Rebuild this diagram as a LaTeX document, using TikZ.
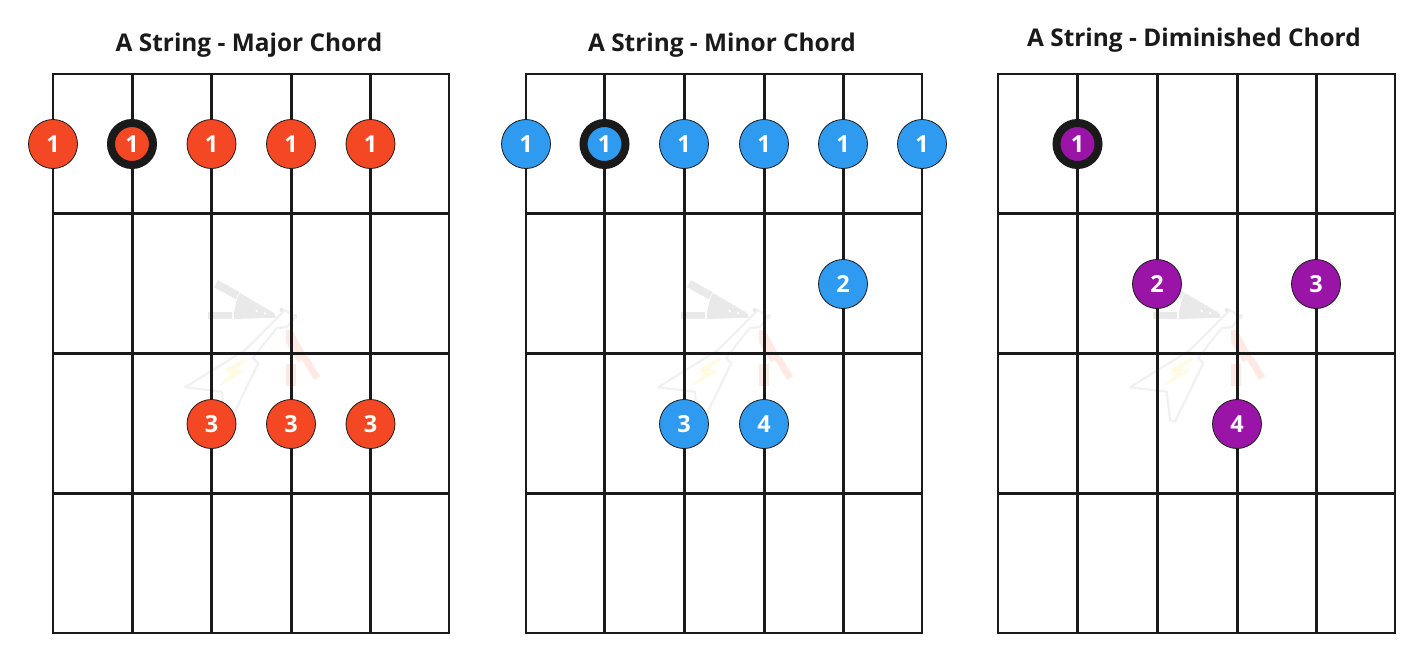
\documentclass[tikz,border=0pt]{standalone}
\usepackage{fontspec}
\setmainfont{Open Sans}
\definecolor{ink}{HTML}{1A1A1A}
\definecolor{majorred}{HTML}{F44825}
\definecolor{minorblue}{HTML}{2E9BF0}
\definecolor{dimpurple}{HTML}{9A14A8}
\definecolor{wmgray}{HTML}{E9E9E9}
\definecolor{wmline}{HTML}{F1F1F1}
\definecolor{wmpink}{HTML}{FFE9E5}
\definecolor{wmyellow}{HTML}{FFFBE3}
\tikzset{
  titletext/.style={text=ink,font=\fontsize{24.4}{28}\selectfont\bfseries,inner sep=0pt,anchor=base},
  border/.style={draw=ink,line width=1.5pt},
  wire/.style={draw=ink,line width=3pt},
  fingerdot/.style={circle,fill=#1,draw=ink,line width=0.8pt,minimum size=49pt,inner sep=0pt,text=white,font=\fontsize{23.5}{23.5}\selectfont\bfseries},
  rootdot/.style={circle,fill=#1,draw=ink,line width=8pt,minimum size=42pt,inner sep=0pt,text=white,font=\fontsize{23.5}{23.5}\selectfont\bfseries},
}
\newcommand{\watermark}[1]{%
  \begin{scope}[shift={(#1,0)}]
    \draw[wmgray,line width=8pt] (216,283.7) -- (237.7,295.7);
    \draw[wmgray,line width=7.5pt] (208.3,315.7) -- (232.3,315.7);
    \fill[wmgray] (234,312) -- (237,299) -- (240,293) -- (274,313) -- (276,317.7) -- (234,319) -- cycle;
    \fill[white] (256.7,311) circle (1.3pt) (265,313.3) circle (1.3pt);
    \fill[wmgray] (281.7,310) circle (2.2pt) (295,316.7) circle (2.4pt);
    \fill[wmpink] (286,330) -- (292,330) -- (307,357) -- (298,362) -- (286,342) -- cycle;
    \draw[wmpink,line width=7pt] (305,358) -- (317,378);
    \fill[wmpink] (286,364) rectangle (296,386);
    \draw[wmline,line width=2.2pt,line join=round] (185,387.3) -- (245,350) -- (275,320) -- (285,310) -- (295,317) -- (287,327) -- (276.7,328) -- (253,358) -- (258.3,363.3) -- (230,421.7) -- (225,420) -- (221.7,391.7) -- cycle;
    \filldraw[wmyellow,line width=1.2pt,line join=round] (220,385) -- (244,371) -- (234,369) -- (248.3,358.3) -- (226,369) -- (232,374) -- cycle;
  \end{scope}}
\newcommand{\fretboard}[6]{%
  \foreach \sx in {#2,#3,#4,#5} {\draw[wire] (\sx,74) -- (\sx,633);}
  \foreach \fy in {213.5,353.5,493} {\draw[wire] (#1,\fy) -- (#6,\fy);}
  \draw[border] (#1,74) rectangle (#6,633);}
\begin{document}
\begin{tikzpicture}[x=1pt,y=-1pt]
\useasboundingbox (0,0) rectangle (1428,664);
\fill[white] (0,0) rectangle (1428,664);
\watermark{0}
\watermark{473}
\watermark{945}
\fretboard{53}{132}{211.5}{291}{370.5}{449}
\fretboard{526}{604.5}{684}{764}{843}{922}
\fretboard{998}{1077.5}{1157}{1237}{1316}{1395}
\node[titletext] (t1) at (249,51) {A String - Major Chord};
\node[titletext] (t2) at (722,51) {A String - Minor Chord};
\node[titletext] (t3) at (1194,46) {A String - Diminished Chord};
% major
\node[fingerdot=majorred] (a1) at (53,144) {1};
\node[rootdot=majorred] (a2) at (132,144) {1};
\node[fingerdot=majorred] (a3) at (211.5,144) {1};
\node[fingerdot=majorred] (a4) at (291,144) {1};
\node[fingerdot=majorred] (a5) at (370.5,144) {1};
\node[fingerdot=majorred] (a6) at (211.5,424) {3};
\node[fingerdot=majorred] (a7) at (291,424) {3};
\node[fingerdot=majorred] (a8) at (370.5,424) {3};
% minor
\node[fingerdot=minorblue] (b1) at (526,144) {1};
\node[rootdot=minorblue] (b2) at (604.5,144) {1};
\node[fingerdot=minorblue] (b3) at (684,144) {1};
\node[fingerdot=minorblue] (b4) at (764,144) {1};
\node[fingerdot=minorblue] (b5) at (843,144) {1};
\node[fingerdot=minorblue] (b6) at (922,144) {1};
\node[fingerdot=minorblue] (b7) at (843,284) {2};
\node[fingerdot=minorblue] (b8) at (684,424) {3};
\node[fingerdot=minorblue] (b9) at (764,424) {4};
% diminished
\node[rootdot=dimpurple] (c1) at (1077.5,144) {1};
\node[fingerdot=dimpurple] (c2) at (1157,284) {2};
\node[fingerdot=dimpurple] (c3) at (1316,284) {3};
\node[fingerdot=dimpurple] (c4) at (1237,424) {4};
\end{tikzpicture}
\end{document}
